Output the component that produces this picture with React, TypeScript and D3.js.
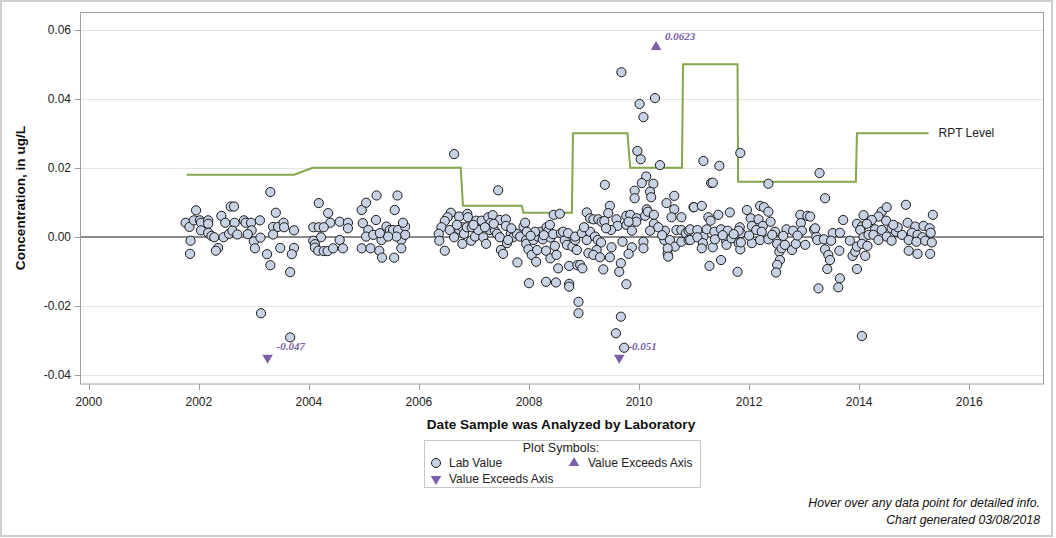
import { useEffect, useRef } from 'react';
import * as d3 from 'd3';

const yTicks = [-0.04, -0.02, 0, 0.02, 0.04, 0.06];
const xTicks = [2000, 2002, 2004, 2006, 2008, 2010, 2012, 2014, 2016];

// reporting level steps
const rptDates = [2001.78, 2003.73, 2004.07, 2006.76, 2006.8, 2007.87, 2007.9, 2008.78, 2008.8, 2009.79, 2009.84, 2010.78, 2010.8, 2011.79, 2011.8, 2013.94, 2013.96, 2015.26];
const rptLevels = [0.018, 0.018, 0.02, 0.02, 0.009, 0.009, 0.007, 0.007, 0.03, 0.03, 0.02, 0.02, 0.05, 0.05, 0.016, 0.016, 0.03, 0.03];

// values off the axis range
const exceedDates = [2003.25, 2009.64, 2010.31];
const exceedValues = [-0.047, -0.051, 0.0623];

// [analysis date, concentration]
const labPoints: [number, number][] = [
  // 2001 - 2003
  [2001.76, 0.0041], [2001.83, 0.0029], [2001.85, -0.0011], [2001.84, -0.0049], [2001.95, 0.0077], [2001.91, 0.0048],
  [2002.02, 0.0048], [2002.04, 0.0041], [2002.04, 0.0019], [2002.17, 0.0048], [2002.17, 0.0038], [2002.17, 0.0012],
  [2002.23, 0.0003], [2002.28, -0.0001], [2002.35, -0.0032], [2002.31, -0.004], [2002.41, 0.0061], [2002.48, 0.0041],
  [2002.45, -0.0001], [2002.55, 0.0009], [2002.58, 0.0088], [2002.64, 0.0088], [2002.65, 0.0041], [2002.61, 0.0018],
  [2002.7, 0.0007], [2002.82, 0.0048], [2002.85, 0.0041], [2002.95, 0.0041], [2002.96, 0.0019], [2002.89, 0.0008],
  [2003.0, -0.0013], [2003.02, -0.0033], [2003.11, 0.0048], [2003.12, -0.0002], [2003.13, -0.0221], [2003.3, 0.013],
  [2003.4, 0.007], [2003.35, 0.0029], [2003.35, 0.0007], [2003.24, -0.005], [2003.3, -0.0082], [2003.44, 0.0029],
  [2003.48, -0.0032], [2003.54, 0.0041], [2003.55, 0.0028], [2003.73, 0.0019], [2003.73, -0.0032], [2003.69, -0.005],
  [2003.66, -0.0102], [2003.66, -0.0291],
  // 2004 - 2005
  [2004.18, 0.0098], [2004.35, 0.0069], [2004.39, 0.0041], [2004.08, 0.0028], [2004.18, 0.0028], [2004.27, 0.0028],
  [2004.22, -0.0001], [2004.08, -0.0011], [2004.11, -0.0021], [2004.11, -0.0031], [2004.17, -0.004], [2004.27, -0.0041],
  [2004.34, -0.0041], [2004.44, -0.0033], [2004.56, 0.0044], [2004.71, 0.0041], [2004.71, 0.0025], [2004.56, -0.0009],
  [2004.62, -0.0033], [2004.96, 0.0078], [2005.04, 0.0099], [2005.23, 0.012], [2005.61, 0.012], [2005.56, 0.0078],
  [2004.98, 0.004], [2005.08, 0.002], [2005.04, 0.0001], [2005.17, 0.0006], [2005.22, 0.0049], [2005.41, 0.003],
  [2005.47, 0.002], [2005.32, -0.0009], [2005.53, 0.002], [2005.62, 0.002], [2005.75, 0.003], [2005.71, 0.0041],
  [2005.68, -0.0009], [2005.68, -0.0033], [2005.75, 0.0006], [2005.59, 0.0001], [2005.44, 0.0001], [2005.29, 0.0011],
  [2004.96, -0.0033], [2005.12, -0.0033], [2005.28, -0.004], [2005.33, -0.006], [2005.55, -0.006],
  // 2006 - 2008
  [2006.64, 0.024], [2007.44, 0.0135], [2006.58, 0.007], [2006.52, 0.0057], [2006.47, 0.0046], [2006.41, 0.0028],
  [2006.36, 0.0009], [2006.37, -0.0011], [2006.47, -0.004], [2006.73, 0.0059], [2006.88, 0.0067], [2006.89, 0.0057],
  [2006.62, 0.0018], [2006.56, 0.002], [2006.64, -0.0001], [2006.73, 0.0022], [2006.79, 0.0028], [2006.82, 0.0009],
  [2006.79, -0.002], [2006.87, 0.0028], [2006.96, 0.0028], [2006.95, -0.0011], [2007.04, 0.0047], [2007.02, 0.0001],
  [2007.08, 0.002], [2007.14, 0.0047], [2007.17, -0.0001], [2007.22, -0.002], [2007.26, 0.0057], [2007.34, 0.0063],
  [2007.3, 0.004], [2007.29, 0.002], [2007.38, 0.0018], [2007.42, 0.0009], [2007.47, 0.0049], [2007.58, 0.0051],
  [2007.58, 0.0032], [2007.47, -0.0001], [2007.49, -0.0038], [2007.53, -0.0049], [2007.6, -0.0018], [2007.67, 0.0009],
  [2007.71, -0.0001], [2007.78, 0.0009], [2007.79, -0.0074], [2007.84, 0.0001], [2007.9, 0.003], [2007.93, 0.0041],
  [2007.95, -0.0009], [2007.95, -0.002], [2007.99, -0.0036], [2008.0, -0.0134], [2008.05, -0.0052], [2008.08, -0.0009],
  [2008.13, -0.0072], [2008.15, -0.0038], [2008.16, 0.0001], [2008.21, 0.0015], [2008.25, -0.0007], [2008.31, -0.004],
  [2008.31, -0.013], [2008.32, 0.0028], [2008.35, 0.0018], [2008.38, 0.0035], [2008.39, -0.0002], [2008.39, -0.0062],
  [2008.44, 0.0008], [2008.47, -0.0026], [2008.49, -0.0132], [2008.53, -0.0091], [2008.5, -0.0052], [2008.45, 0.0064],
  [2008.56, 0.0067], [2008.58, 0.0011], [2008.65, -0.0009], [2008.69, -0.0023], [2008.73, -0.0084], [2008.73, -0.0136],
  [2008.73, -0.0144], [2008.79, -0.0028], [2008.84, -0.0009], [2008.88, -0.0082], [2008.9, -0.0188], [2008.9, -0.0221],
  [2008.62, 0.0015], [2008.71, 0.0011], [2008.11, 0.0015], [2007.96, 0.0015], [2007.62, -0.0009], [2006.69, 0.0035],
  [2006.99, 0.0035], [2007.2, 0.0028], [2007.36, 0.0038], [2007.68, 0.0025], [2008.27, 0.0005], [2008.03, 0.0003],
  // 2009 - 2010
  [2009.68, 0.0477], [2010.01, 0.0385], [2010.29, 0.0402], [2010.08, 0.0347], [2009.97, 0.0249], [2010.03, 0.0225],
  [2010.38, 0.0208], [2010.13, 0.0175], [2010.05, 0.0156], [2010.26, 0.0154], [2009.92, 0.0134], [2009.92, 0.0112],
  [2010.2, 0.0131], [2010.22, 0.0115], [2009.38, 0.0151], [2009.47, 0.009], [2009.44, 0.0069], [2009.05, 0.0071],
  [2009.11, 0.0054], [2009.17, 0.0051], [2009.26, 0.0051], [2009.32, 0.0044], [2009.37, 0.0046], [2009.59, 0.0051],
  [2009.61, 0.0032], [2009.77, 0.0061], [2009.84, 0.0064], [2009.96, 0.0054], [2009.77, 0.0035], [2009.87, 0.0018],
  [2009.95, 0.0044], [2010.11, 0.0061], [2010.14, 0.008], [2010.16, 0.0073], [2010.27, 0.0064], [2010.27, 0.0038],
  [2010.2, 0.0018], [2010.5, 0.0098], [2010.64, 0.0119], [2010.64, 0.008], [2010.59, 0.0057], [2010.77, 0.0057],
  [2010.99, 0.0086], [2010.47, 0.0018], [2010.46, -0.0009], [2010.56, -0.0009], [2010.65, -0.0028], [2010.52, -0.0049],
  [2010.68, 0.002], [2010.77, 0.002], [2010.85, 0.0011], [2010.9, 0.0018], [2010.77, -0.0014], [2010.9, -0.0009],
  [2008.84, 0.0001], [2008.96, 0.0011], [2009.05, -0.0009], [2009.11, 0.0015], [2009.2, 0.0001], [2009.25, -0.0009],
  [2009.31, -0.0016], [2009.23, -0.0038], [2009.08, -0.0047], [2009.17, -0.0052], [2009.29, -0.0059], [2009.5, -0.003],
  [2009.47, -0.0059], [2009.35, -0.0094], [2008.93, -0.0081], [2008.97, -0.0091], [2008.87, -0.0038], [2009.7, -0.0014],
  [2009.87, -0.003], [2009.81, -0.0049], [2009.67, -0.0076], [2009.64, -0.0101], [2009.77, -0.0137], [2009.67, -0.0231],
  [2009.58, -0.0279], [2009.73, -0.0321], [2010.08, -0.0014], [2010.08, -0.0033], [2010.52, -0.0033], [2010.53, -0.0057],
  [2009.49, 0.002], [2009.81, 0.0044], [2009.0, 0.0028], [2009.4, 0.0025], [2010.35, 0.0028], [2010.42, 0.0005],
  // 2011 - 2013
  [2011.17, 0.022], [2011.46, 0.0206], [2011.84, 0.0243], [2011.31, 0.0156], [2011.34, 0.0157], [2012.35, 0.0154],
  [2013.28, 0.0185], [2011.0, 0.0086], [2011.14, 0.009], [2011.26, 0.0057], [2011.3, 0.0047], [2011.44, 0.0064],
  [2011.65, 0.0071], [2011.96, 0.0078], [2012.2, 0.009], [2012.27, 0.0086], [2012.35, 0.0073], [2012.03, 0.0054],
  [2012.17, 0.0051], [2012.25, 0.0032], [2012.39, 0.0044], [2012.93, 0.0064], [2013.06, 0.0061], [2012.94, 0.004],
  [2011.83, 0.0028], [2012.05, 0.0032], [2011.85, 0.0011], [2010.93, 0.0022], [2011.06, 0.002], [2011.17, 0.0001],
  [2011.23, 0.0022], [2011.37, 0.0015], [2011.49, 0.0022], [2011.61, 0.0018], [2011.81, 0.0018], [2012.13, 0.002],
  [2012.23, 0.0015], [2012.47, 0.0015], [2012.68, 0.0022], [2012.8, 0.0018], [2012.96, 0.0018], [2013.18, 0.0022],
  [2013.22, 0.0001], [2010.93, -0.0009], [2011.06, -0.0001], [2011.16, -0.0018], [2011.14, -0.0033], [2011.34, -0.003],
  [2011.38, -0.0007], [2011.58, -0.0011], [2011.59, -0.0023], [2011.68, -0.0004], [2011.81, -0.0018], [2011.84, -0.0036],
  [2011.85, -0.0016], [2012.05, -0.0018], [2012.2, -0.0009], [2012.35, -0.0007], [2012.51, -0.002], [2012.55, -0.0043],
  [2012.59, -0.0033], [2012.65, -0.0023], [2012.78, -0.0038], [2012.85, -0.002], [2013.02, -0.0023], [2012.56, -0.0067],
  [2012.51, -0.0081], [2012.49, -0.0103], [2011.28, -0.0084], [2011.49, -0.0067], [2011.79, -0.0101], [2013.26, -0.0149],
  [2011.52, 0.0005], [2011.72, 0.0008], [2012.0, 0.0004], [2012.42, 0.0006], [2012.62, 0.0003], [2012.88, 0.0004],
  // 2013 - 2015
  [2013.38, 0.0112], [2014.85, 0.0093], [2015.34, 0.0064], [2013.71, 0.0049], [2014.08, 0.0063], [2014.41, 0.0073],
  [2014.5, 0.0086], [2014.35, 0.0059], [2014.23, 0.0049], [2014.49, 0.0047], [2013.96, 0.0038], [2014.05, 0.003],
  [2014.14, 0.0038], [2014.88, 0.0041], [2015.02, 0.003], [2015.17, 0.0032], [2015.28, 0.0025], [2013.2, 0.0025],
  [2013.11, 0.0059], [2013.52, 0.0011], [2013.65, 0.0012], [2014.29, 0.0022], [2014.41, 0.002], [2014.59, 0.0025],
  [2014.67, 0.0015], [2014.78, 0.0006], [2014.96, 0.0012], [2015.06, 0.0006], [2015.15, -0.0001], [2015.3, 0.0012],
  [2014.02, 0.002], [2014.08, -0.0001], [2014.17, 0.0006], [2014.26, 0.0006], [2014.5, 0.0001], [2014.35, -0.0009],
  [2014.59, -0.0011], [2013.24, -0.0009], [2013.36, -0.0007], [2013.49, -0.0011], [2013.83, -0.0011], [2014.9, -0.0009],
  [2015.04, -0.0014], [2015.2, -0.0011], [2015.32, -0.0016], [2013.38, -0.0036], [2013.44, -0.0052], [2013.47, -0.0067],
  [2013.42, -0.0093], [2013.64, -0.004], [2013.88, -0.0055], [2013.93, -0.0043], [2013.96, -0.0028], [2014.05, -0.002],
  [2014.11, -0.0055], [2013.96, -0.0093], [2014.15, -0.0026], [2013.65, -0.012], [2013.62, -0.0146], [2014.05, -0.0287],
  [2014.9, -0.004], [2015.06, -0.0049], [2015.29, -0.0049], [2014.7, 0.0028], [2014.62, 0.0035],
];

const font = '"Liberation Sans", Arial, sans-serif';
const purple = '#7b5fa8';

export default function App() {
  const ref = useRef<SVGSVGElement>(null);

  useEffect(() => {
    if (!ref.current) return;
    const svg = d3.select(ref.current);
    svg.selectAll('*').remove();

    const left = 80.5, right = 1043.5, top = 12.5, bottom = 384;
    const x = d3.scaleLinear().domain([1999.85, 2017.35]).range([left, right]);
    const y = d3.scaleLinear().domain([-0.0426, 0.065]).range([bottom, top]);

    // outer border
    svg.append('rect')
      .attr('x', 1).attr('y', 1).attr('width', 1051).attr('height', 535)
      .attr('fill', 'white').attr('stroke', '#cfcfcf').attr('stroke-width', 2);

    // 1) GRID + ZERO LINE
    svg.selectAll('line.grid')
      .data(yTicks)
      .enter()
      .append('line')
      .attr('class', 'grid')
      .attr('x1', left).attr('x2', right)
      .attr('y1', d => Math.round(y(d)) + 0.5).attr('y2', d => Math.round(y(d)) + 0.5)
      .attr('stroke', '#e3e3e3');

    svg.append('line')
      .attr('x1', left).attr('x2', right)
      .attr('y1', y(0)).attr('y2', y(0))
      .attr('stroke', '#8a8a8a').attr('stroke-width', 2);

    svg.append('rect')
      .attr('x', left).attr('y', top).attr('width', right - left).attr('height', bottom - top)
      .attr('fill', 'none').attr('stroke', '#a0a0a0');

    // 2) AXES
    svg.selectAll('line.ytick')
      .data(yTicks)
      .enter()
      .append('line')
      .attr('x1', left - 6).attr('x2', left)
      .attr('y1', d => Math.round(y(d)) + 0.5).attr('y2', d => Math.round(y(d)) + 0.5)
      .attr('stroke', '#a0a0a0');

    svg.selectAll('text.ytick')
      .data(yTicks)
      .enter()
      .append('text')
      .text(d => d.toFixed(2))
      .attr('x', 71).attr('y', d => y(d) + 4)
      .attr('text-anchor', 'end')
      .attr('font-family', font).attr('font-size', '12px').attr('fill', '#222');

    svg.selectAll('line.xtick')
      .data(xTicks)
      .enter()
      .append('line')
      .attr('x1', d => Math.round(x(d)) + 0.5).attr('x2', d => Math.round(x(d)) + 0.5)
      .attr('y1', bottom).attr('y2', bottom + 6)
      .attr('stroke', '#a0a0a0');

    svg.selectAll('text.xtick')
      .data(xTicks)
      .enter()
      .append('text')
      .text(d => String(d))
      .attr('x', d => x(d)).attr('y', 406)
      .attr('text-anchor', 'middle')
      .attr('font-family', font).attr('font-size', '12px').attr('fill', '#222');

    svg.append('text')
      .text('Concentration, in ug/L')
      .attr('transform', 'translate(25,198) rotate(-90)')
      .attr('text-anchor', 'middle')
      .attr('font-family', font).attr('font-size', '13.6px').attr('font-weight', 'bold').attr('fill', '#111');

    svg.append('text')
      .text('Date Sample was Analyzed by Laboratory')
      .attr('x', 561).attr('y', 429)
      .attr('text-anchor', 'middle')
      .attr('font-family', font).attr('font-size', '13.6px').attr('font-weight', 'bold').attr('fill', '#111');

    // 3) RPT LEVEL LINE
    const rpt = rptDates.map((d, i) => [d, rptLevels[i]] as [number, number]);
    svg.append('path')
      .datum(rpt)
      .attr('d', d3.line<[number, number]>().x(d => x(d[0])).y(d => y(d[1])))
      .attr('fill', 'none').attr('stroke', '#84a64c').attr('stroke-width', 2);

    svg.append('text')
      .text('RPT Level')
      .attr('x', x(rptDates[rptDates.length - 1]) + 10).attr('y', y(rptLevels[rptLevels.length - 1]) + 4)
      .attr('font-family', font).attr('font-size', '12px').attr('fill', '#222');

    // 4) LAB VALUES
    svg.selectAll('circle.lab')
      .data(labPoints)
      .enter()
      .append('circle')
      .attr('cx', d => x(d[0])).attr('cy', d => y(d[1]))
      .attr('r', 4.6)
      .attr('fill', '#c7d3e4').attr('stroke', '#1a1a1a').attr('stroke-width', 1);

    // 5) VALUES EXCEEDING AXIS
    const tri = d3.symbol().type(d3.symbolTriangle).size(48);
    const exceed = exceedDates.map((d, i) => ({ date: d, value: exceedValues[i] }));
    svg.selectAll('path.exceed')
      .data(exceed)
      .enter()
      .append('path')
      .attr('d', tri())
      .attr('transform', d => d.value > 0
        ? `translate(${x(d.date)},${y(0.055)})`
        : `translate(${x(d.date)},${y(-0.035)}) rotate(180)`)
      .attr('fill', purple);

    svg.selectAll('text.exceed')
      .data(exceed)
      .enter()
      .append('text')
      .text(d => String(d.value))
      .attr('x', d => x(d.date) + 9)
      .attr('y', d => d.value > 0 ? y(0.055) - 7 : y(-0.035) - 8)
      .attr('font-family', '"Liberation Serif", "Times New Roman", serif')
      .attr('font-size', '11px').attr('font-weight', 'bold').attr('font-style', 'italic')
      .attr('fill', purple);

    // 6) LEGEND
    const lg = svg.append('g');
    lg.append('rect')
      .attr('x', 424.5).attr('y', 440.5).attr('width', 276).attr('height', 47)
      .attr('fill', 'white').attr('stroke', '#c8c8c8');
    lg.append('text').text('Plot Symbols:')
      .attr('x', 561).attr('y', 452).attr('text-anchor', 'middle')
      .attr('font-family', font).attr('font-size', '12.5px').attr('fill', '#222');
    lg.append('circle').attr('cx', 436).attr('cy', 463).attr('r', 4.5)
      .attr('fill', '#c7d3e4').attr('stroke', '#1a1a1a');
    lg.append('text').text('Lab Value').attr('x', 449).attr('y', 467)
      .attr('font-family', font).attr('font-size', '12px').attr('fill', '#222');
    lg.append('path').attr('d', tri()).attr('transform', 'translate(574,463)').attr('fill', purple);
    lg.append('text').text('Value Exceeds Axis').attr('x', 588).attr('y', 467)
      .attr('font-family', font).attr('font-size', '12px').attr('fill', '#222');
    lg.append('path').attr('d', tri()).attr('transform', 'translate(436,479) rotate(180)').attr('fill', purple);
    lg.append('text').text('Value Exceeds Axis').attr('x', 449).attr('y', 483)
      .attr('font-family', font).attr('font-size', '12px').attr('fill', '#222');

    // 7) FOOTNOTES
    svg.append('text').text('Hover over any data point for detailed info.')
      .attr('x', 1040).attr('y', 507).attr('text-anchor', 'end')
      .attr('font-family', font).attr('font-size', '12.3px').attr('font-style', 'italic').attr('fill', '#111');
    svg.append('text').text('Chart generated 03/08/2018')
      .attr('x', 1040).attr('y', 524).attr('text-anchor', 'end')
      .attr('font-family', font).attr('font-size', '12.3px').attr('font-style', 'italic').attr('fill', '#111');
  }, []);

  return (
    <svg ref={ref} width={1056} height={538} style={{ position: 'absolute', left: 0, top: 0 }} />
  );
}
